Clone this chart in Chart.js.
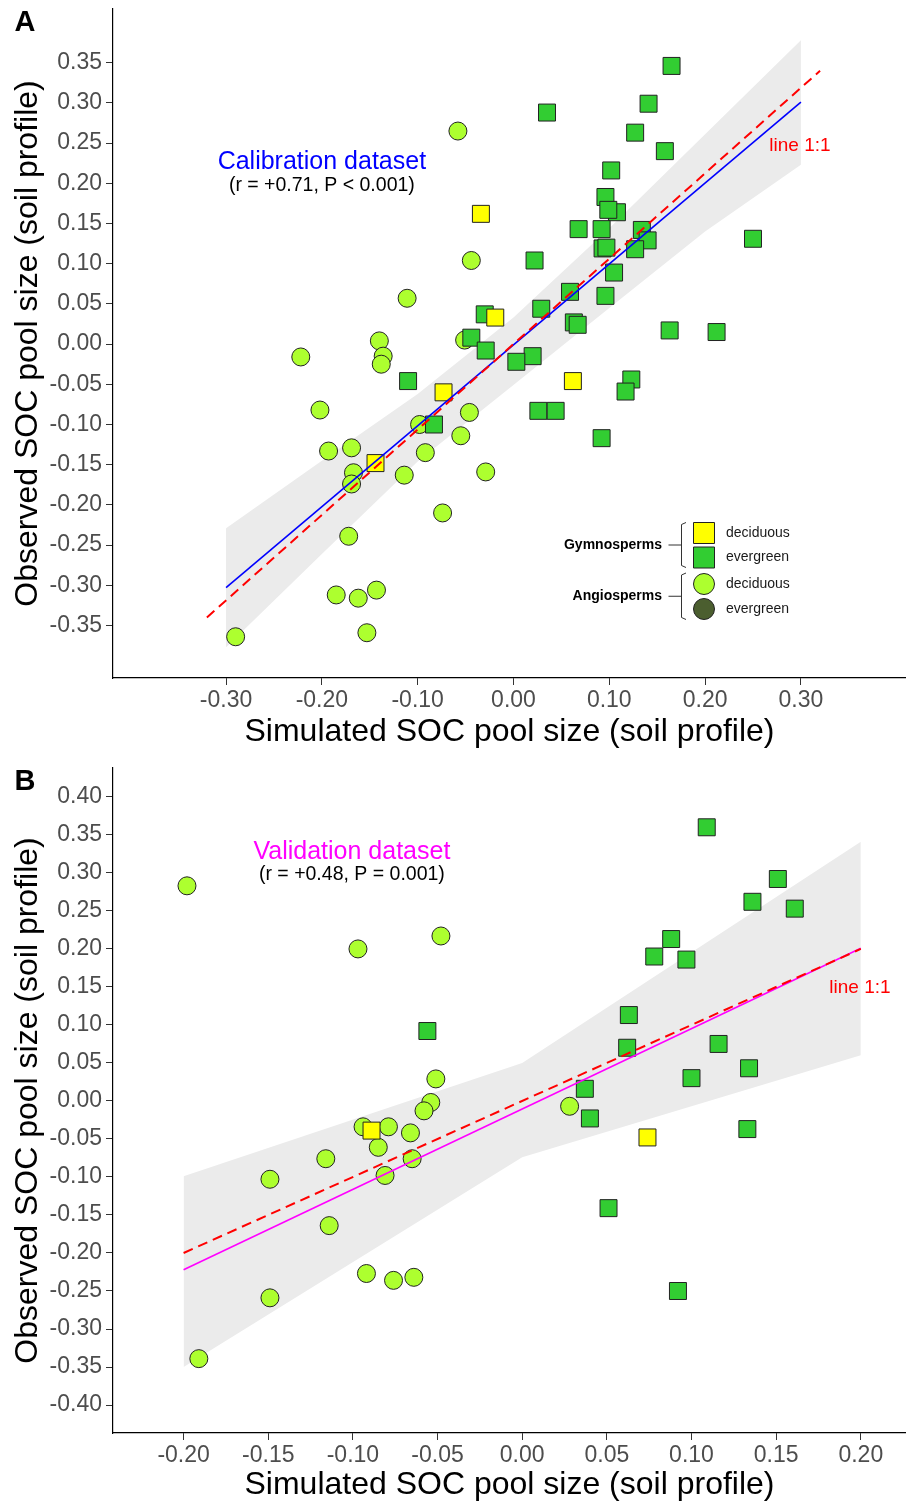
<!DOCTYPE html>
<html>
<head>
<meta charset="utf-8">
<script src="https://cdn.jsdelivr.net/npm/chart.js@4.4.0/dist/chart.umd.min.js"></script>
<style>
  body { margin: 0; background: #fff; }
  #wrap { position: relative; width: 906px; height: 1503px; }
  canvas { position: absolute; left: 0; }
</style>
</head>
<body>
<div id="wrap">
  <canvas id="chartA" width="906" height="755" style="top:0"></canvas>
  <canvas id="chartB" width="906" height="748" style="top:755px"></canvas>
</div>
<script>
const FONT = '"Liberation Sans", Arial, Helvetica, sans-serif';

// ---- panel A: calibration dataset ----
const calAngDecX = [-0.058, -0.111, -0.044, -0.222, -0.140, -0.136, -0.138, -0.202, -0.046, -0.193, -0.169, -0.167, -0.169,
                    -0.098, -0.055, -0.092, -0.114, -0.029, -0.074, -0.172, -0.185, -0.162, -0.143, -0.153, -0.290, -0.051];
const calAngDecY = [0.265, 0.057, 0.104, -0.016, 0.004, -0.015, -0.025, -0.082, -0.085, -0.133, -0.129, -0.160, -0.174,
                    -0.100, -0.114, -0.135, -0.163, -0.159, -0.210, -0.239, -0.312, -0.316, -0.306, -0.359, -0.364, 0.005];
const calGymDecX = [-0.034, -0.019, -0.073, -0.144, 0.062];
const calGymDecY = [0.162, 0.033, -0.060, -0.148, -0.046];
const calGymEvX = [0.165, 0.035, 0.141, 0.127, 0.158, 0.102, 0.096, 0.108, 0.099, 0.068, 0.092, 0.134, 0.140, 0.093, 0.097,
                   0.127, 0.105, 0.022, 0.250, 0.096, 0.059, 0.029, -0.030, 0.063, 0.067, 0.163, 0.212, -0.044, -0.029,
                   0.020, 0.003, 0.123, 0.117, 0.026, 0.044, 0.092, -0.110, -0.083];
const calGymEvY = [0.346, 0.288, 0.299, 0.263, 0.240, 0.216, 0.183, 0.164, 0.167, 0.143, 0.143, 0.142, 0.129, 0.119, 0.120,
                   0.118, 0.089, 0.104, 0.131, 0.060, 0.065, 0.044, 0.037, 0.027, 0.024, 0.017, 0.015, 0.008, -0.008,
                   -0.015, -0.022, -0.044, -0.059, -0.083, -0.083, -0.117, -0.046, -0.100];
const calFitX = [-0.30, 0.30];
const calFitY = [-0.303, 0.301];
const calOneX = [-0.32, 0.32];
const calOneY = [-0.34, 0.34];
const calBandX = [-0.30, -0.20, -0.10, 0.00, 0.10, 0.20, 0.30];
const calBandHi = [-0.229, -0.145, -0.062, 0.033, 0.144, 0.261, 0.378];
const calBandLo = [-0.377, -0.261, -0.146, -0.051, 0.045, 0.140, 0.223];
const calXTicks = [-0.30, -0.20, -0.10, 0.00, 0.10, 0.20, 0.30];
const calYTicks = [-0.35, -0.30, -0.25, -0.20, -0.15, -0.10, -0.05, 0.00, 0.05, 0.10, 0.15, 0.20, 0.25, 0.30, 0.35];

// ---- panel B: validation dataset ----
const valAngDecX = [-0.198, -0.097, -0.048, -0.051, -0.054, -0.058, -0.094, -0.079, -0.066, -0.085, -0.065, -0.116, -0.081,
                    -0.149, -0.114, -0.092, -0.076, -0.064, -0.149, -0.191, 0.028];
const valAngDecY = [0.283, 0.200, 0.217, 0.029, -0.002, -0.013, -0.034, -0.034, -0.042, -0.061, -0.076, -0.076, -0.098,
                    -0.103, -0.164, -0.227, -0.236, -0.232, -0.259, -0.339, -0.007];
const valGymDecX = [-0.089, 0.074];
const valGymDecY = [-0.039, -0.048];
const valGymEvX = [-0.056, 0.109, 0.151, 0.136, 0.161, 0.088, 0.078, 0.097, 0.063, 0.062, 0.116, 0.134, 0.100, 0.037, 0.040,
                   0.133, 0.051, 0.092];
const valGymEvY = [0.092, 0.360, 0.292, 0.262, 0.253, 0.213, 0.190, 0.186, 0.113, 0.070, 0.075, 0.043, 0.030, 0.016, -0.023,
                   -0.037, -0.141, -0.250];
const valFitX = [-0.20, 0.20];
const valFitY = [-0.222, 0.201];
const valOneX = [-0.20, 0.20];
const valOneY = [-0.20, 0.20];
const valBandX = [-0.20, 0.00, 0.20];
const valBandHi = [-0.099, 0.050, 0.341];
const valBandLo = [-0.350, -0.074, 0.060];
const valXTicks = [-0.20, -0.15, -0.10, -0.05, 0.00, 0.05, 0.10, 0.15, 0.20];
const valYTicks = [-0.40, -0.35, -0.30, -0.25, -0.20, -0.15, -0.10, -0.05, 0.00, 0.05, 0.10, 0.15, 0.20, 0.25, 0.30, 0.35, 0.40];

const COL_GYM_DEC = '#FFFF00';
const COL_GYM_EV = '#32CD32';
const COL_ANG_DEC = '#ADFF2F';
const COL_ANG_EV = '#4B5E2F';
const COL_BAND = '#EBEBEB';

function pts(xs, ys) {
    return xs.map((x, i) => ({ x: x, y: ys[i] }));
}

// scatter / line datasets, first in list is drawn on top
function buildDatasets(d) {
    return [
        { data: pts(d.oneX, d.oneY), showLine: true, borderColor: '#FF0000', borderWidth: 2, borderDash: [10, 6], pointRadius: 0 },
        { data: pts(d.fitX, d.fitY), showLine: true, borderColor: d.fitColor, borderWidth: 1.6, pointRadius: 0 },
        { data: pts(d.gdX, d.gdY), pointStyle: 'rect', pointRadius: 12, backgroundColor: COL_GYM_DEC, borderColor: '#222', pointBorderWidth: 1 },
        { data: pts(d.geX, d.geY), pointStyle: 'rect', pointRadius: 12, backgroundColor: COL_GYM_EV, borderColor: '#222', pointBorderWidth: 1 },
        { data: pts(d.adX, d.adY), pointStyle: 'circle', pointRadius: 9, backgroundColor: COL_ANG_DEC, borderColor: '#222', pointBorderWidth: 1 },
        { data: pts(d.bandX, d.bandHi), showLine: true, borderWidth: 0, borderColor: 'rgba(0,0,0,0)', pointRadius: 0 },
        { data: pts(d.bandX, d.bandLo), showLine: true, borderWidth: 0, borderColor: 'rgba(0,0,0,0)', pointRadius: 0,
          fill: '-1', backgroundColor: COL_BAND }
    ];
}

function axisOpts(pos, min, max, tickVals, title, size, titlePad) {
    const left = pos === 'left';
    return {
        type: 'linear', position: pos, min: min, max: max,
        afterBuildTicks: s => { s.ticks = tickVals.map(v => ({ value: v })); },
        afterFit: s => {
            // fixed axis box, no extra room for edge labels
            if (left) { s.width = size; s.paddingTop = 0; s.paddingBottom = 0; }
            else { s.height = size; s.paddingLeft = 0; s.paddingRight = 0; }
        },
        ticks: {
            autoSkip: false, maxRotation: 0, padding: left ? 4 : 2,
            color: '#4D4D4D', font: { family: FONT, size: 23 },
            callback: v => Number(v).toFixed(2)
        },
        grid: { drawOnChartArea: false, tickLength: 7, tickColor: '#333333', color: '#333333' },
        border: { display: true, color: '#000000', width: 1.2 },
        title: {
            display: true, text: title, color: '#000000',
            font: { family: FONT, size: 32, lineHeight: 1 },
            padding: left ? { top: titlePad, bottom: 0 } : { top: 0, bottom: titlePad }
        }
    };
}

// text labels inside a panel, placed in data units
function notesPlugin(id, notes, letter, letterY) {
    return {
        id: id,
        afterDatasetsDraw(chart) {
            const ctx = chart.ctx, xs = chart.scales.x, ys = chart.scales.y;
            ctx.save();
            ctx.textAlign = 'center';
            ctx.textBaseline = 'middle';
            notes.forEach(n => {
                ctx.fillStyle = n.color;
                ctx.font = n.size + 'px ' + FONT;
                ctx.fillText(n.text, xs.getPixelForValue(n.x), ys.getPixelForValue(n.y));
            });
            ctx.fillStyle = '#000';
            ctx.font = 'bold 29px ' + FONT;
            ctx.fillText(letter, 25, letterY);
            ctx.restore();
        }
    };
}

// grouped legend with brackets (panel A only)
const legendGroups = ['Gymnosperms', 'Angiosperms'];
const legendLabels = ['deciduous', 'evergreen', 'deciduous', 'evergreen'];
const legendShapes = ['rect', 'rect', 'circle', 'circle'];
const legendFills = [COL_GYM_DEC, COL_GYM_EV, COL_ANG_DEC, COL_ANG_EV];

const groupLegend = {
    id: 'groupLegend',
    afterDatasetsDraw(chart) {
        const ctx = chart.ctx;
        const keyX = 704, textX = 726, braceX = 681.5, titleR = 662;
        const rowY = [533, 557.5, 584, 609];
        ctx.save();
        ctx.lineWidth = 1;
        ctx.strokeStyle = '#222';
        rowY.forEach((y, i) => {
            ctx.fillStyle = legendFills[i];
            ctx.beginPath();
            if (legendShapes[i] === 'rect') ctx.rect(keyX - 10.5, y - 10.5, 21, 21);
            else ctx.arc(keyX, y, 10.5, 0, Math.PI * 2);
            ctx.fill();
            ctx.stroke();
            ctx.fillStyle = '#1a1a1a';
            ctx.font = '14px ' + FONT;
            ctx.textAlign = 'left';
            ctx.textBaseline = 'middle';
            ctx.fillText(legendLabels[i], textX, y);
        });
        [[522.5, 567.5], [573, 619.5]].forEach((span, g) => {
            const mid = (span[0] + span[1]) / 2;
            ctx.strokeStyle = '#333';
            ctx.beginPath();
            ctx.moveTo(braceX + 4.5, span[0]);
            ctx.lineTo(braceX, span[0] + 2);
            ctx.lineTo(braceX, span[1] - 2);
            ctx.lineTo(braceX + 4.5, span[1]);
            ctx.moveTo(braceX, mid);
            ctx.lineTo(braceX - 13, mid);
            ctx.stroke();
            ctx.fillStyle = '#000';
            ctx.font = 'bold 14px ' + FONT;
            ctx.textAlign = 'right';
            ctx.fillText(legendGroups[g], titleR, mid);
        });
        ctx.restore();
    }
};

function baseOptions(pad, xAxis, yAxis) {
    return {
        responsive: false,
        animation: false,
        devicePixelRatio: 1,
        events: [],
        layout: { padding: pad, autoPadding: false },
        plugins: { legend: { display: false }, tooltip: { enabled: false } },
        scales: { x: xAxis, y: yAxis }
    };
}

new Chart(document.getElementById('chartA'), {
    type: 'scatter',
    data: {
        datasets: buildDatasets({
            oneX: calOneX, oneY: calOneY, fitX: calFitX, fitY: calFitY, fitColor: '#0000FF',
            gdX: calGymDecX, gdY: calGymDecY, geX: calGymEvX, geY: calGymEvY, adX: calAngDecX, adY: calAngDecY,
            bandX: calBandX, bandHi: calBandHi, bandLo: calBandLo
        })
    },
    options: baseOptions({ top: 9, left: 0, right: 0, bottom: 0 },
        axisOpts('bottom', -0.418, 0.4097, calXTicks, 'Simulated SOC pool size (soil profile)', 77, 7),
        axisOpts('left', -0.4153, 0.4168, calYTicks, 'Observed SOC pool size (soil profile)', 113, 12)),
    plugins: [notesPlugin('notesA', [
        { text: 'Calibration dataset', x: -0.20, y: 0.226, size: 25, color: '#0000FF' },
        { text: '(r = +0.71, P < 0.001)', x: -0.20, y: 0.197, size: 19.5, color: '#000000' },
        { text: 'line 1:1', x: 0.299, y: 0.247, size: 19, color: '#FF0000' }
    ], 'A', 23), groupLegend]
});

new Chart(document.getElementById('chartB'), {
    type: 'scatter',
    data: {
        datasets: buildDatasets({
            oneX: valOneX, oneY: valOneY, fitX: valFitX, fitY: valFitY, fitColor: '#FF00FF',
            gdX: valGymDecX, gdY: valGymDecY, geX: valGymEvX, geY: valGymEvY, adX: valAngDecX, adY: valAngDecY,
            bandX: valBandX, bandHi: valBandHi, bandLo: valBandLo
        })
    },
    options: baseOptions({ top: 13, left: 0, right: 0, bottom: 0 },
        axisOpts('bottom', -0.2417, 0.2267, valXTicks, 'Simulated SOC pool size (soil profile)', 70, 2),
        axisOpts('left', -0.4368, 0.438, valYTicks, 'Observed SOC pool size (soil profile)', 113, 12)),
    plugins: [notesPlugin('notesB', [
        { text: 'Validation dataset', x: -0.1006, y: 0.328, size: 25, color: '#FF00FF' },
        { text: '(r = +0.48, P = 0.001)', x: -0.1006, y: 0.298, size: 19.5, color: '#000000' },
        { text: 'line 1:1', x: 0.1995, y: 0.149, size: 19, color: '#FF0000' }
    ], 'B', 27)]
});
</script>
</body>
</html>
